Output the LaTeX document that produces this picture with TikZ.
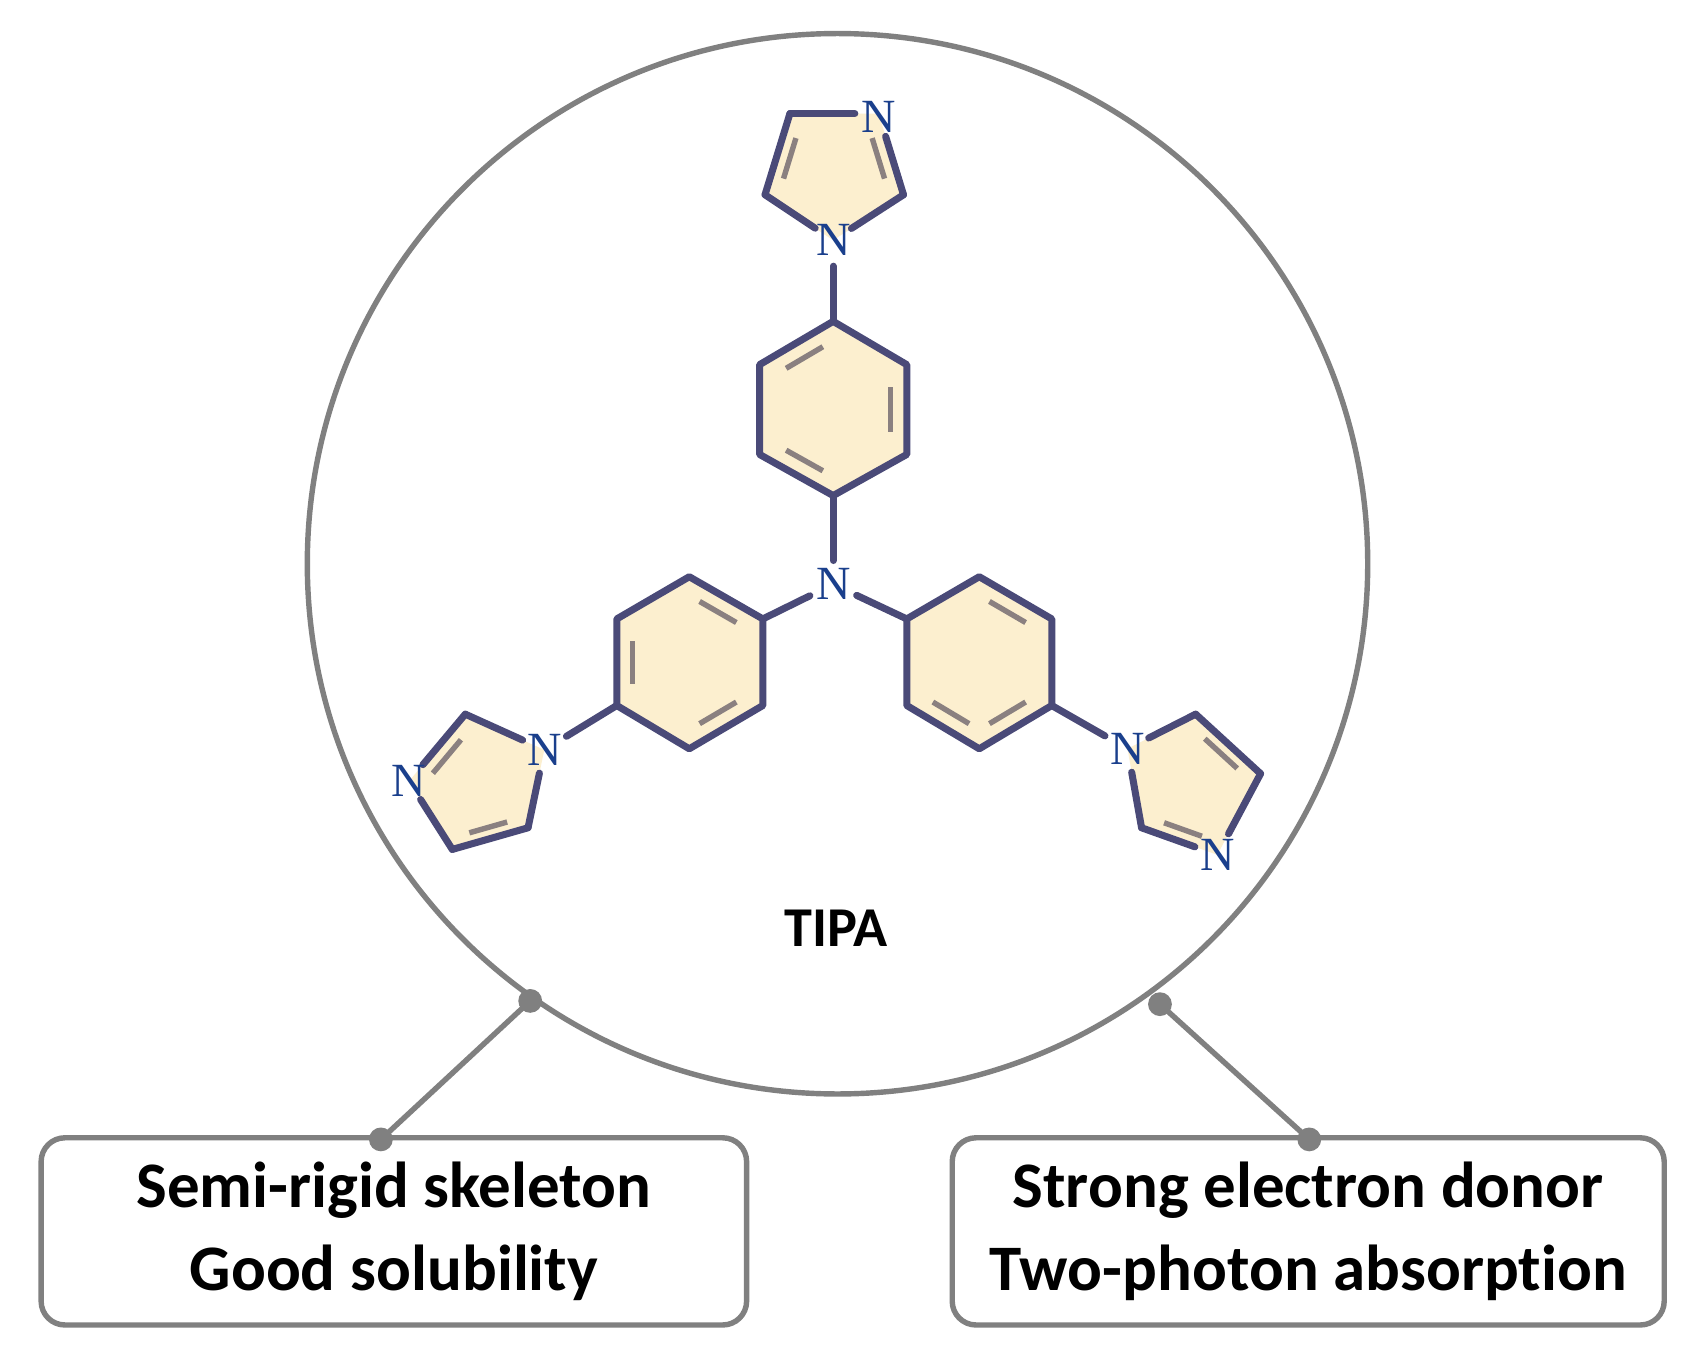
\documentclass[tikz,border=0pt]{standalone}
\usepackage{fontspec}
\setmainfont{Carlito}[Ligatures=NoCommon]
\newfontfamily\serifN{Liberation Serif}
\usetikzlibrary{calc}
\definecolor{bond}{HTML}{4A4A78}
\definecolor{inner}{HTML}{8A8080}
\definecolor{cream}{HTML}{FCEFCF}
\definecolor{nblue}{HTML}{1A3F8C}
\definecolor{frame}{HTML}{808080}
\tikzset{
  bd/.style={draw=bond,line width=6.5pt,line cap=round,line join=round},
  inl/.style={draw=inner,line width=5pt},
  atom/.style={font=\serifN\fontsize{44}{44}\selectfont,text=nblue,inner sep=0pt},
  box/.style={draw=frame,line width=5pt,rounded corners=22pt,fill=white},
  lbl/.style={font=\bfseries\fontsize{60}{76}\selectfont,align=center},
  dot/.style={circle,fill=frame,inner sep=0pt,minimum size=22pt},
}
\newcommand{\innerb}[3]{\path[inl] ($($(#3)!0.78!(#1)$)!0.18!($(#3)!0.78!(#2)$)$) -- ($($(#3)!0.78!(#1)$)!0.82!($(#3)!0.78!(#2)$)$);}
\begin{document}
\begin{tikzpicture}[x=1pt,y=-1pt]
\useasboundingbox (0,0) rectangle (1560,1257);
\fill[white] (0,0) rectangle (1560,1257);
\node[circle,draw=frame,line width=5pt,minimum size=980pt] (ring) at (774,521) {};
% connectors
\node[dot] (d1) at (490,925) {};
\node[dot] (d2) at (1072,928) {};
\node[box,minimum width=652pt,minimum height=173pt,lbl] (b1) at (364,1138) {Semi-rigid skeleton\\Good solubility};
\node[box,minimum width=658pt,minimum height=173pt,lbl] (b2) at (1209,1138) {Strong electron donor\\Two-photon absorption};
\node[dot] (d3) at (352,1053) {};
\node[dot] (d4) at (1210,1053) {};
\draw[frame,line width=5pt] (d1.center) -- (d3.center);
\draw[frame,line width=5pt] (d2.center) -- (d4.center);
\node[font=\bfseries\fontsize{52}{52}\selectfont] (tipa) at (773,858) {TIPA};
% ---- top benzene
\coordinate (t0) at (770,378);
\coordinate (t1) at (770,297); \coordinate (t2) at (838,337); \coordinate (t3) at (838,420);
\coordinate (t4) at (770,458); \coordinate (t5) at (702,420); \coordinate (t6) at (702,337);
\fill[cream] (t1)--(t2)--(t3)--(t4)--(t5)--(t6)--cycle;
\draw[bd] (t1)--(t2)--(t3)--(t4)--(t5)--(t6)--cycle;
\innerb{t2}{t3}{t0}\innerb{t4}{t5}{t0}\innerb{t6}{t1}{t0}
% left benzene
\coordinate (l0) at (637,612);
\coordinate (l1) at (705,572); \coordinate (l2) at (705,652); \coordinate (l3) at (637,692);
\coordinate (l4) at (570,652); \coordinate (l5) at (570,572); \coordinate (l6) at (637,533);
\fill[cream] (l1)--(l2)--(l3)--(l4)--(l5)--(l6)--cycle;
\draw[bd] (l1)--(l2)--(l3)--(l4)--(l5)--(l6)--cycle;
\innerb{l6}{l1}{l0}\innerb{l2}{l3}{l0}\innerb{l4}{l5}{l0}
% right benzene
\coordinate (r0) at (905,612);
\coordinate (r1) at (838,572); \coordinate (r2) at (838,652); \coordinate (r3) at (905,692);
\coordinate (r4) at (972,652); \coordinate (r5) at (972,572); \coordinate (r6) at (905,533);
\fill[cream] (r1)--(r2)--(r3)--(r4)--(r5)--(r6)--cycle;
\draw[bd] (r1)--(r2)--(r3)--(r4)--(r5)--(r6)--cycle;
\innerb{r6}{r5}{r0}\innerb{r2}{r3}{r0}\innerb{r4}{r3}{r0}
% central N
\node[atom] (nc) at (770,540) {N};
\draw[bd,shorten <=22pt] (nc.center) -- (t4);
\draw[bd,shorten <=24pt] (nc.center) -- (l1);
\draw[bd,shorten <=24pt] (nc.center) -- (r1);
% top imidazole
\coordinate (a0) at (770,160);
\coordinate (a1) at (770,222); \coordinate (a2) at (835,180); \coordinate (a3) at (812,105);
\coordinate (a4) at (730,105); \coordinate (a5) at (707,180);
\fill[cream] (a1)--(a2)--(a3)--(a4)--(a5)--cycle;
\draw[bd,shorten <=20pt] (a1)--(a2);
\draw[bd,shorten >=22pt] (a2)--(a3);
\draw[bd,shorten >=22pt] (a4)--(a3);
\draw[bd] (a4)--(a5);
\draw[bd,shorten >=20pt] (a5)--(a1);
\innerb{a4}{a5}{a0}\innerb{a2}{a3}{a0}
\node[atom] (na1) at (a1) {N};
\node[atom] (na3) at (812,108) {N};
\draw[bd,shorten <=24pt] (a1) -- (t1);
% left imidazole
\coordinate (b0) at (445,728);
\coordinate (c1) at (503,693); \coordinate (c2) at (488,765); \coordinate (c3) at (418,785);
\coordinate (c4) at (378,722); \coordinate (c5) at (430,660);
\fill[cream] (c1)--(c2)--(c3)--(c4)--(c5)--cycle;
\draw[bd,shorten <=22pt] (c1)--(c2);
\draw[bd] (c2)--(c3);
\draw[bd,shorten >=20pt] (c3)--(c4);
\draw[bd,shorten <=20pt] (c4)--(c5);
\draw[bd,shorten >=22pt] (c5)--(c1);
\innerb{c2}{c3}{b0}\innerb{c4}{c5}{b0}
\node[atom] (nb1) at (c1) {N};
\node[atom] (nb2) at (c4) {N};
\draw[bd,shorten <=24pt] (c1) -- (l4);
% right imidazole
\coordinate (e0) at (1105,728);
\coordinate (f1) at (1042,692); \coordinate (f2) at (1105,660); \coordinate (f3) at (1165,715);
\coordinate (f4) at (1125,790); \coordinate (f5) at (1055,765);
\fill[cream] (f1)--(f2)--(f3)--(f4)--(f5)--cycle;
\draw[bd,shorten <=22pt] (f1)--(f2);
\draw[bd] (f2)--(f3);
\draw[bd,shorten >=22pt] (f3)--(f4);
\draw[bd,shorten <=22pt] (f4)--(f5);
\draw[bd,shorten >=22pt] (f5)--(f1);
\innerb{f2}{f3}{e0}\innerb{f4}{f5}{e0}
\node[atom] (nf1) at (f1) {N};
\node[atom] (nf4) at (f4) {N};
\draw[bd,shorten <=24pt] (f1) -- (r4);
\end{tikzpicture}
\end{document}
